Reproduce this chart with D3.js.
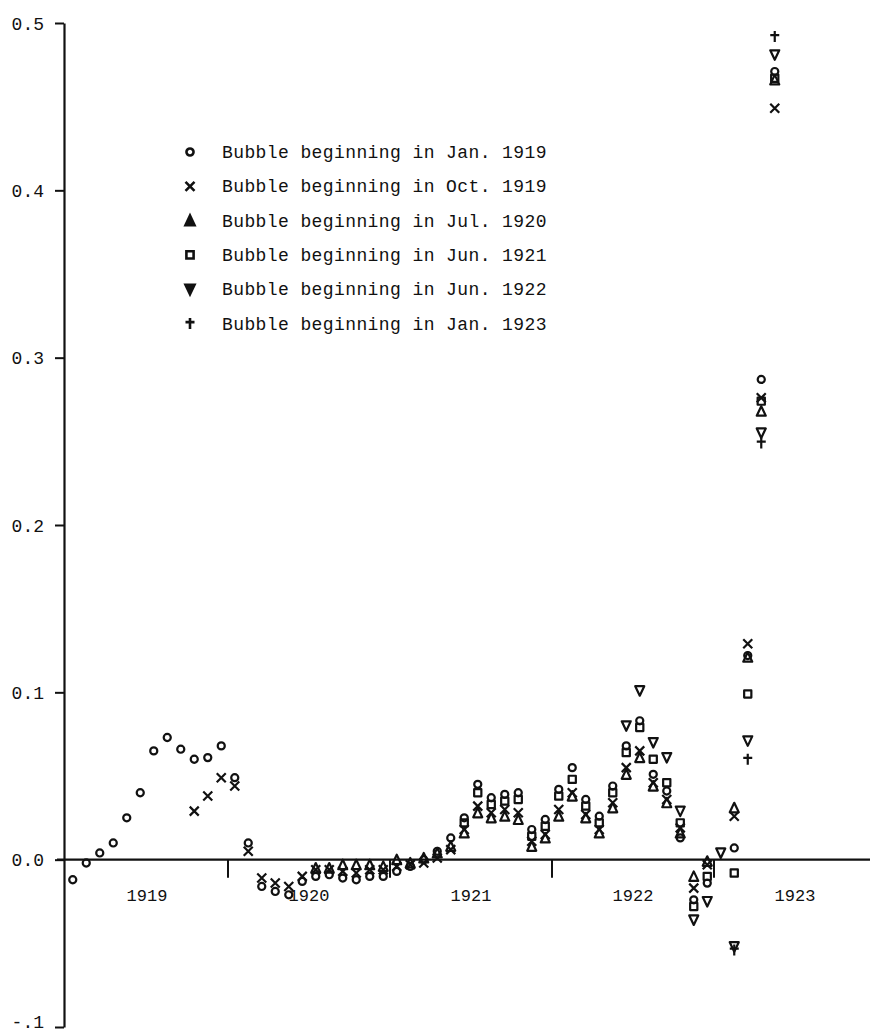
<!DOCTYPE html>
<html>
<head>
<meta charset="UTF-8">
<title>Bubble estimates</title>
<style>
  body { margin: 0; background: white; }
  svg { display: block; }
  text { font-family: "Liberation Mono", monospace; fill: #111; }
</style>
</head>
<body>
<script src="https://d3js.org/d3.v7.min.js"></script>
<script>
// months counted from Jan 1919 (0) ; null = no point plotted
const seriesNames = [
  "Bubble beginning in Jan. 1919",
  "Bubble beginning in Oct. 1919",
  "Bubble beginning in Jul. 1920",
  "Bubble beginning in Jun. 1921",
  "Bubble beginning in Jun. 1922",
  "Bubble beginning in Jan. 1923"
];
const seriesMarks = ["circle", "cross", "triangle", "square", "triangleDown", "plus"];
const seriesStart = [0, 9, 18, 29, 41, 49];

const bubbleJan1919 = [-0.012, -0.002, 0.004, 0.010, 0.025, 0.040, 0.065, 0.073, 0.066, 0.060, 0.061, 0.068,
  0.049, 0.010, -0.016, -0.019, -0.021, -0.013, -0.010, -0.009, -0.011, -0.012, -0.010, -0.010,
  -0.007, -0.004, 0.000, 0.005, 0.013, 0.025, 0.045, 0.037, 0.039, 0.040, 0.018, 0.024,
  0.042, 0.055, 0.036, 0.026, 0.044, 0.068, 0.083, 0.051, 0.041, 0.013, -0.024, -0.014,
  null, 0.007, 0.122, 0.287, 0.471];
const bubbleOct1919 = [0.029, 0.038, 0.049,
  0.044, 0.005, -0.011, -0.014, -0.016, -0.010, -0.006, -0.006, -0.007, -0.008, -0.006, -0.006,
  -0.004, -0.003, -0.002, 0.001, 0.006, 0.018, 0.032, 0.028, 0.030, 0.028, 0.011, 0.015,
  0.030, 0.040, 0.027, 0.018, 0.034, 0.055, 0.065, 0.046, 0.036, 0.019, -0.017, -0.003,
  null, 0.026, 0.129, 0.276, 0.449];
const bubbleJul1920 = [-0.005, -0.005, -0.003, -0.003, -0.003, -0.004,
  0.000, -0.002, 0.001, 0.004, 0.008, 0.016, 0.028, 0.025, 0.026, 0.024, 0.008, 0.013,
  0.026, 0.038, 0.025, 0.016, 0.031, 0.051, 0.061, 0.044, 0.034, 0.016, -0.010, -0.001,
  null, 0.031, 0.121, 0.268, 0.466];
const bubbleJun1921 = [0.022, 0.040, 0.033, 0.035, 0.036, 0.014, 0.020,
  0.038, 0.048, 0.032, 0.022, 0.040, 0.064, 0.079, 0.060, 0.046, 0.022, -0.028, -0.010,
  null, -0.008, 0.099, 0.274, 0.467];
const bubbleJun1922 = [0.080, 0.101, 0.070, 0.061, 0.029, -0.036, -0.025,
  0.004, -0.052, 0.071, 0.255, 0.481];
const bubbleJan1923 = [-0.054, 0.060, 0.249, 0.492];

const seriesValues = [bubbleJan1919, bubbleOct1919, bubbleJul1920, bubbleJun1921, bubbleJun1922, bubbleJan1923];

const yearLabels = ["1919", "1920", "1921", "1922", "1923"];
const yTicks = [0.5, 0.4, 0.3, 0.2, 0.1, 0.0, -0.1];
const yTickLabels = ["0.5", "0.4", "0.3", "0.2", "0.1", "0.0", "-.1"];

const width = 870, height = 1033;
const svg = d3.select("body").append("svg")
  .attr("width", width).attr("height", height);

const x = d3.scaleLinear().domain([0, 60]).range([66, 876]);
const y = d3.scaleLinear().domain([-0.1, 0.5]).range([1027, 23]);

// y axis
const yAxis = svg.append("g")
  .attr("transform", "translate(64,0)")
  .call(d3.axisLeft(y).tickValues(yTicks).tickSize(9).tickSizeOuter(0)
    .tickFormat((d, i) => yTickLabels[i]));
yAxis.select(".domain").attr("stroke", "#111").attr("stroke-width", 2.2);
yAxis.selectAll(".tick line").attr("stroke", "#111").attr("stroke-width", 2);
yAxis.selectAll(".tick text")
  .attr("x", -20)
  .attr("dy", d => d < 0 ? "0.05em" : "0.35em")
  .style("font-size", "18px").style("font-family", "'Liberation Mono', monospace").attr("fill", "#111");

// x axis along zero
svg.append("line")
  .attr("x1", 57).attr("x2", 870)
  .attr("y1", y(0)).attr("y2", y(0))
  .attr("stroke", "#111").attr("stroke-width", 2.2);

// year boundary ticks
svg.selectAll(".ytick")
  .data(d3.range(1, 5))
  .enter().append("line")
  .attr("class", "ytick")
  .attr("x1", d => x(d * 12)).attr("x2", d => x(d * 12))
  .attr("y1", y(0)).attr("y2", y(0) + 18)
  .attr("stroke", "#111").attr("stroke-width", 2);

svg.selectAll(".year")
  .data(yearLabels)
  .enter().append("text")
  .attr("class", "year")
  .attr("x", (d, i) => x(i * 12 + 6))
  .attr("y", y(0) + 41)
  .attr("text-anchor", "middle")
  .style("font-size", "17px")
  .text(d => d);

// marker shapes
function markPath(type, s) {
  const h = s / 2;
  switch (type) {
    case "circle":
      return d3.symbol(d3.symbolCircle, Math.PI * h * h * 0.62)();
    case "cross":
      return `M${-h},${-h}L${h},${h}M${h},${-h}L${-h},${h}`;
    case "plus":
      return `M0,${-h - 1}L0,${h + 1}M${-h},${-h * 0.3}L${h},${-h * 0.3}`;
    case "triangle":
      return `M0,${-h - 0.5}L${h},${h}L${-h},${h}Z`;
    case "triangleDown":
      return `M0,${h + 0.5}L${h},${-h}L${-h},${-h}Z`;
    case "square":
      return `M${-h * 0.8},${-h * 0.8}H${h * 0.8}V${h * 0.8}H${-h * 0.8}Z`;
  }
}

const points = [];
seriesValues.forEach((vals, si) => {
  vals.forEach((v, k) => {
    if (v !== null) points.push({ s: si, m: seriesStart[si] + k, v: v });
  });
});

svg.append("g").selectAll("path")
  .data(points)
  .enter().append("path")
  .attr("transform", d => `translate(${x(d.m + 0.5)},${y(d.v)})`)
  .attr("d", d => markPath(seriesMarks[d.s], 9))
  .attr("fill", "none")
  .attr("stroke", "#111")
  .attr("stroke-width", 2.2)
  .attr("stroke-linejoin", "round");

// legend
const legend = svg.append("g").attr("transform", "translate(190,152)");
const rows = legend.selectAll("g")
  .data(seriesNames)
  .enter().append("g")
  .attr("transform", (d, i) => `translate(0,${i * 34.3})`);
rows.append("path")
  .attr("d", (d, i) => markPath(seriesMarks[i], 9))
  .attr("fill", (d, i) => (seriesMarks[i] === "triangle" || seriesMarks[i] === "triangleDown") ? "#111" : "none")
  .attr("stroke", "#111")
  .attr("stroke-width", 2.6);
rows.append("text")
  .attr("x", 32).attr("y", 6)
  .style("font-size", "18px")
  .style("letter-spacing", "0.4px")
  .text(d => d);
</script>
</body>
</html>
